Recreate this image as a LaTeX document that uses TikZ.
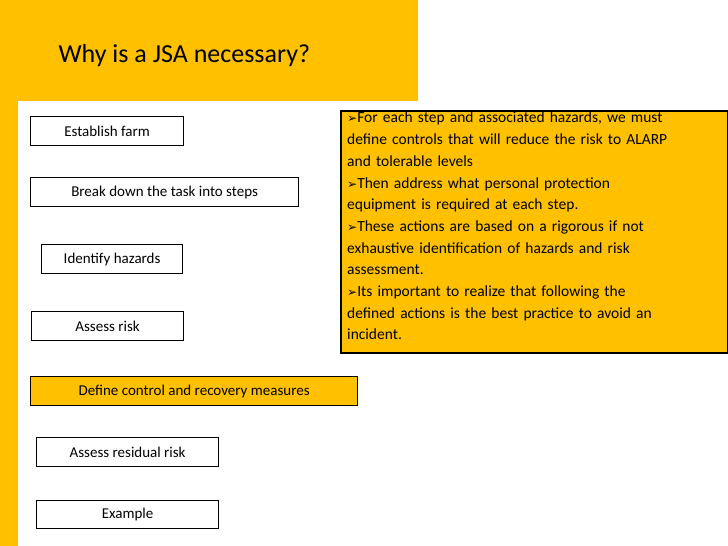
\documentclass[tikz,border=0pt]{standalone}
\usepackage{fontspec}
\setmainfont{Carlito}
\newfontfamily\symf{DejaVu Sans}
\definecolor{gold}{HTML}{FFC000}
\begin{document}
\begin{tikzpicture}[x=1pt,y=-1pt,
  stepbox/.style={draw=black,line width=1.2pt,fill=white,inner sep=0pt,font=\fontsize{15}{18}\selectfont}]
\useasboundingbox (0,0) rectangle (728,546);
\fill[white] (0,0) rectangle (728,546);
\fill[gold] (0,0) rectangle (418,101);
\fill[gold] (0,0) rectangle (18,546);
\node[anchor=base west,font=\fontsize{26}{30}\selectfont] (title) at (55,62) {Why is a JSA necessary?};
\newcommand{\stepbx}[6]{\node[stepbox,minimum width=#3pt,minimum height=#4pt,anchor=north west,#6] (#1) at (#2) {#5};}
\stepbx{s1}{30,116}{153}{29}{Establish farm}{}
\stepbx{s2}{30,177}{268}{29}{Break down the task into steps}{}
\stepbx{s3}{41,244}{141}{29}{Identify hazards}{}
\stepbx{s4}{31,311}{152}{29}{Assess risk}{}
\stepbx{s5}{30,376}{327}{29}{Define control and recovery measures}{fill=gold}
\stepbx{s6}{36,437}{182}{29}{Assess residual risk}{}
\stepbx{s7}{36,500}{182}{28}{Example}{}
\node[draw=black,line width=1.6pt,fill=gold,anchor=north west,minimum width=387pt,minimum height=242pt,inner sep=0pt] (info) at (340,110) {};
\node[anchor=north west,align=left,text width=380pt,inner sep=0pt,font=\fontsize{15.5}{21.7}\selectfont] (txt) at (347,112)
{{\symf\fontsize{12}{12}\selectfont ➢}For each step and associated hazards, we must\\
define controls that will reduce the risk to ALARP\\
and tolerable levels\\
{\symf\fontsize{12}{12}\selectfont ➢}Then address what personal protection\\
equipment is required at each step.\\
{\symf\fontsize{12}{12}\selectfont ➢}These actions are based on a rigorous if not\\
exhaustive identification of hazards and risk\\
assessment.\\
{\symf\fontsize{12}{12}\selectfont ➢}Its important to realize that following the\\
defined actions is the best practice to avoid an\\
incident.};
\end{tikzpicture}
\end{document}
